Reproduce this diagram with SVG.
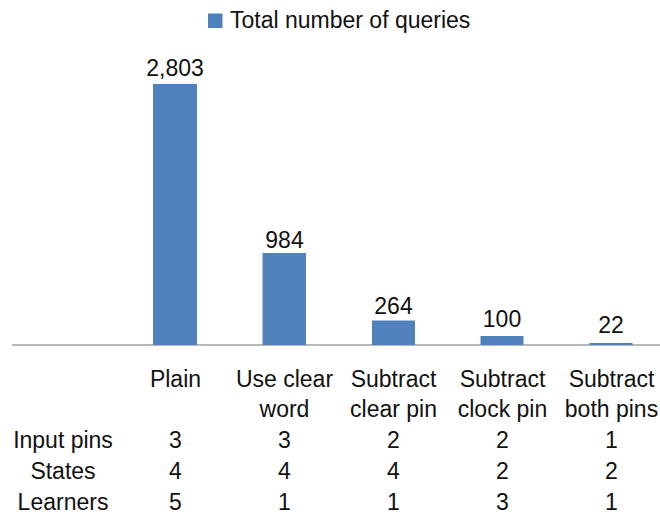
<svg xmlns="http://www.w3.org/2000/svg" width="660" height="517" viewBox="0 0 660 517">
<style>
text{font-family:"Liberation Sans",Arial,sans-serif;font-size:23px;fill:#111}
.c{text-anchor:middle}
.bar{fill:#4F81BD}
</style>
<rect width="660" height="517" fill="#fff"/>
<g id="legend">
<rect class="bar" x="208" y="13.5" width="14.5" height="14.5"/>
<text x="230" y="28">Total number of queries</text>
</g>
<g id="axis">
<line x1="12" y1="345" x2="660" y2="345" stroke="#a0a0a0" stroke-width="1.5"/>
</g>
<g id="bar-plain">
<rect class="bar" x="153" y="84" width="44" height="261"/>
<text class="c" x="175" y="76">2,803</text>
</g>
<g id="bar-use-clear-word">
<rect class="bar" x="262.5" y="253" width="43.5" height="92"/>
<text class="c" x="284.5" y="248">984</text>
</g>
<g id="bar-subtract-clear-pin">
<rect class="bar" x="372" y="320.5" width="43" height="24.5"/>
<text class="c" x="393.5" y="314">264</text>
</g>
<g id="bar-subtract-clock-pin">
<rect class="bar" x="480.5" y="336" width="43" height="9"/>
<text class="c" x="502" y="327">100</text>
</g>
<g id="bar-subtract-both-pins">
<rect class="bar" x="589.5" y="343" width="43" height="2"/>
<text class="c" x="611" y="333">22</text>
</g>
<g id="table">
<text class="c" x="175.5" y="387">Plain</text>
<text class="c" x="284.5" y="387">Use clear</text>
<text class="c" x="284.5" y="417">word</text>
<text class="c" x="393.5" y="387">Subtract</text>
<text class="c" x="393.5" y="417">clear pin</text>
<text class="c" x="502.5" y="387">Subtract</text>
<text class="c" x="502.5" y="417">clock pin</text>
<text class="c" x="611.5" y="387">Subtract</text>
<text class="c" x="611.5" y="417">both pins</text>
<text class="c" x="63" y="448">Input pins</text>
<text class="c" x="63" y="479">States</text>
<text class="c" x="63" y="510">Learners</text>
<text class="c" x="175.5" y="448">3</text>
<text class="c" x="284.5" y="448">3</text>
<text class="c" x="393.5" y="448">2</text>
<text class="c" x="502.5" y="448">2</text>
<text class="c" x="611.5" y="448">1</text>
<text class="c" x="175.5" y="479">4</text>
<text class="c" x="284.5" y="479">4</text>
<text class="c" x="393.5" y="479">4</text>
<text class="c" x="502.5" y="479">2</text>
<text class="c" x="611.5" y="479">2</text>
<text class="c" x="175.5" y="510">5</text>
<text class="c" x="284.5" y="510">1</text>
<text class="c" x="393.5" y="510">1</text>
<text class="c" x="502.5" y="510">3</text>
<text class="c" x="611.5" y="510">1</text>
</g>
</svg>
